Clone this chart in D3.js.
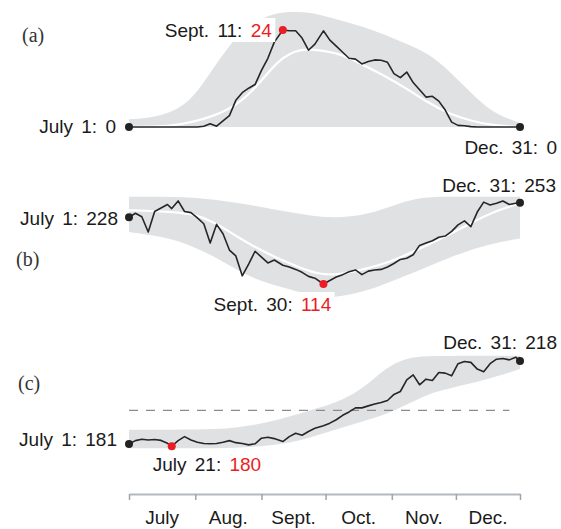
<!doctype html>
<html lang="en">
<head>
<meta charset="UTF-8">
<title>Daily counts, July - December</title>
<script src="https://cdn.jsdelivr.net/npm/d3@7"></script>
<style>
  body { margin: 0; background: #fff; }
  text { font-family: "Liberation Sans", Arial, sans-serif; white-space: pre; }
</style>
</head>
<body>
<div id="chart"></div>
<script>
// day offsets counted from July 1
const lineDays = [0, 3, 6, 9, 12, 15, 18, 20, 23, 26, 29, 32, 35, 38, 41, 44, 47, 50, 53, 56, 59, 62, 65, 68,
    72, 75, 78, 81, 84, 87, 91, 94, 97, 100, 103, 106, 109, 112, 115, 118, 121, 124, 127, 130, 133, 136, 139,
    142, 145, 148, 151, 154, 157, 160, 163, 166, 169, 172, 175, 178, 181, 183];
const bandDays = [0, 10, 20, 30, 40, 50, 60, 70, 80, 90, 100, 110, 120, 130, 140, 150, 160, 170, 183];

const monthStarts = [0, 31, 62, 92, 123, 153, 183];
const monthNames = ['July', 'Aug.', 'Sept.', 'Oct.', 'Nov.', 'Dec.'];

// (a)
const aLine = [0, 0, 0, 0, 0, 0, 0, 0, 0, 0, 0, 0, 0.2, 0.8, 0.2, 1.5, 2.8, 6.6, 8.5, 9.6, 10.5, 14, 17, 21,
    24, 23.8, 23.8, 22, 19, 20.5, 23.8, 21.5, 20, 18.5, 17, 16.8, 15.6, 16.2, 16.6, 16.5, 16, 13.2, 12.2, 13.6,
    11, 9.2, 7.4, 7.6, 6.4, 4.2, 1.2, 0.4, 0.3, 0.1, 0, 0, 0, 0, 0, 0, 0, 0];
const aUpper = [1.9, 2.3, 3.5, 7, 15, 22.5, 26.5, 28.4, 28.6, 27.8, 26.2, 24.8, 22.8, 20.5, 18.3, 13.8, 8.5, 3.5, 1];
const aLower = [0, 0, 0, 0, 0, 0, 0, 0, 0, 0, 0, 0, 0, 0, 0, 0, 0, 0, 0];
const aMid = [0, 0.1, 0.3, 1.2, 2.8, 5.2, 10, 16.8, 19.5, 19, 18, 15.2, 12.6, 9.5, 6, 3.2, 1.5, 0.4, 0];
const aMarks = [[0, 'July 1: '], [72, 'Sept. 11: '], [183, 'Dec. 31: ']];

// (b)
const bLine = [228, 235, 229, 203, 238, 244, 250, 243, 256, 238, 236, 227, 217, 184, 216, 200, 172, 162, 128,
    148, 170, 160, 150, 155, 146, 143, 139, 134, 127, 124, 114, 120, 126, 130, 135, 138, 130, 136, 138, 139,
    143, 149, 156, 158, 164, 180, 184, 188, 194, 196, 204, 215, 222, 212, 237, 254, 249, 252, 256, 250, 252, 253];
const bUpper = [263, 263, 263, 262, 258, 253, 247, 240, 234, 228, 228, 232, 243, 257, 263, 263, 263, 263, 263];
const bLower = [203, 198, 191, 178, 161, 139, 121, 110, 100, 90, 93, 101, 114, 129, 144, 159, 173, 183, 192];
const bMid = [240, 239, 237, 234, 220, 196, 175, 157, 142, 129, 131, 139, 149, 164, 181, 199, 218, 237, 252];
const bMarks = [[0, 'July 1: '], [91, 'Sept. 30: '], [183, 'Dec. 31: ']];

// (c)
const cLine = [181, 182.5, 183.1, 182.8, 183, 182.6, 181.3, 180, 182.5, 184.3, 182.8, 181.8, 181.2, 181.1,
    181.2, 181.8, 182.5, 181.6, 181.2, 180.6, 181.1, 183.6, 184, 183.4, 182.1, 184.3, 185.8, 184.9, 186.6, 188,
    189.1, 190.3, 191.8, 193.8, 195.3, 197.1, 197.1, 198, 198.8, 199.5, 200.4, 203.1, 204.4, 209.6, 211.8,
    207.4, 209.9, 209.3, 212.9, 212.6, 211.4, 216.8, 217.8, 217.4, 214.4, 213.2, 216.8, 218.8, 219.1, 218.5,
    219.7, 218];
const cUpper = [187.3, 187.3, 187.4, 187.5, 187.6, 188.3, 189.6, 191.8, 194.6, 197.4, 200.6, 206, 215, 219.6,
    220.2, 220.3, 220.3, 220.3, 220.3];
const cLower = [179.1, 179.1, 179.1, 179.1, 179.1, 179.3, 179.8, 180.8, 182.5, 185.5, 188.3, 191.2, 194.2, 198.5,
    203.4, 205.8, 208, 210.5, 214.4];
const cThreshold = 196;
const cMarks = [[0, 'July 1: '], [20, 'July 21: '], [183, 'Dec. 31: ']];

const W = 561, H = 529;
const bandColor = '#dfe1e3';
const red = '#ec1c24';

const svg = d3.select('#chart')
    .append('svg')
    .attr('width', W)
    .attr('height', H);

const x = d3.scaleLinear()
    .domain([0, 183])
    .range([129, 520]);

// label placement per mark: [anchor, dx, dy, white background]
const panels = [
    { tag: '(a)', tagPos: [22, 42], line: aLine, upper: aUpper, lower: aLower, mid: aMid, marks: aMarks,
      y: d3.scaleLinear().domain([0, 24]).range([127, 30]),
      place: [['end', -13, 6, false], ['end', -11, 7, true], ['end', 37, 27, false]] },
    { tag: '(b)', tagPos: [16, 266], line: bLine, upper: bUpper, lower: bLower, mid: bMid, marks: bMarks,
      y: d3.scaleLinear().domain([114, 253]).range([284, 202.7]),
      place: [['end', -11, 8, false], ['middle', -51, 27, true], ['end', 36, -11, false]] },
    { tag: '(c)', tagPos: [18, 390], line: cLine, upper: cUpper, lower: cLower, mid: null, marks: cMarks,
      y: d3.scaleLinear().domain([181, 218]).range([444, 361]),
      threshold: cThreshold,
      place: [['end', -12, 2, false], ['start', -19, 25, false], ['end', 37, -12, false]] }
];

panels.forEach(p => {
    const g = svg.append('g');

    const band = d3.area()
        .x((d, i) => x(bandDays[i]))
        .y0((d, i) => p.y(p.lower[i]))
        .y1(d => p.y(d))
        .curve(d3.curveBasis);

    g.append('path')
        .datum(p.upper)
        .attr('d', band)
        .attr('fill', bandColor);

    if (p.threshold !== undefined) {
        g.append('line')
            .attr('x1', x(0))
            .attr('x2', x(178))
            .attr('y1', p.y(p.threshold))
            .attr('y2', p.y(p.threshold))
            .attr('stroke', '#8c8c8c')
            .attr('stroke-width', 1.3)
            .attr('stroke-dasharray', '9,8');
    }

    if (p.mid) {
        g.append('path')
            .datum(p.mid)
            .attr('d', d3.line()
                .x((d, i) => x(bandDays[i]))
                .y(d => p.y(d))
                .curve(d3.curveBasis))
            .attr('fill', 'none')
            .attr('stroke', '#fff')
            .attr('stroke-width', 2.2);
    }

    g.append('path')
        .datum(p.line)
        .attr('d', d3.line()
            .x((d, i) => x(lineDays[i]))
            .y(d => p.y(d)))
        .attr('fill', 'none')
        .attr('stroke', '#262626')
        .attr('stroke-width', 1.6)
        .attr('stroke-linejoin', 'round');

    p.marks.forEach((m, k) => {
        const day = m[0];
        const value = p.line[lineDays.indexOf(day)];
        const cx = x(day), cy = p.y(value);
        const isExtreme = k === 1;
        const pl = p.place[k];

        g.append('circle')
            .attr('cx', cx)
            .attr('cy', cy)
            .attr('r', 4)
            .attr('fill', isExtreme ? red : '#222');

        const t = g.append('text')
            .attr('x', cx + pl[1])
            .attr('y', cy + pl[2])
            .attr('text-anchor', pl[0])
            .attr('font-size', 19)
            .attr('word-spacing', 3)
            .attr('fill', '#1a1a1a');
        t.append('tspan').text(m[1]);
        t.append('tspan').text(value).attr('fill', isExtreme ? red : '#1a1a1a');

        if (pl[3]) {
            const bb = t.node().getBBox();
            g.insert('rect', () => t.node())
                .attr('x', bb.x - 3)
                .attr('y', bb.y - 2)
                .attr('width', bb.width + 6)
                .attr('height', bb.height + 3)
                .attr('fill', '#fff');
        }
    });

    svg.append('text')
        .attr('x', p.tagPos[0])
        .attr('y', p.tagPos[1])
        .attr('font-size', 20)
        .style('font-family', '"Liberation Serif", "Times New Roman", serif')
        .attr('fill', '#333')
        .text(p.tag);
});

// month axis
const axisY = 494;
const axis = svg.append('g')
    .attr('transform', `translate(0,${axisY})`)
    .call(d3.axisBottom(x).tickValues(monthStarts).tickFormat('').tickSize(6).tickSizeOuter(0));
axis.select('.domain').attr('stroke', '#b3b9be').attr('stroke-width', 2);
axis.selectAll('.tick line').attr('stroke', '#9ea4a9').attr('stroke-width', 1.5);

svg.selectAll('.month')
    .data(monthNames)
    .enter()
    .append('text')
    .attr('class', 'month')
    .attr('x', (d, i) => x((monthStarts[i] + monthStarts[i + 1]) / 2))
    .attr('y', axisY + 30)
    .attr('text-anchor', 'middle')
    .attr('font-size', 19)
    .attr('fill', '#1a1a1a')
    .text(d => d);
</script>
</body>
</html>
